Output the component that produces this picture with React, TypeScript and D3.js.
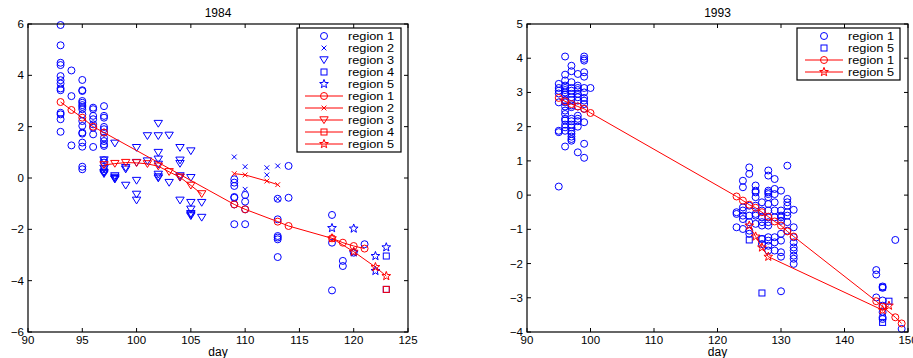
import React from 'react';
import * as d3 from 'd3';

type Pt = [number, number];
type Grouped = [number, number[]][];

// ---------------- 1984 data ----------------
const y84Region1: Grouped = [
  [93, [5.96, 5.17, 4.49, 4.4, 3.97, 3.81, 3.68, 3.49, 3.42, 2.54, 2.48, 2.29, 1.8]],
  [94, [4.19, 3.19, 1.27]],
  [95, [3.82, 3.42, 3.39, 3.0, 2.93, 2.84, 2.77, 2.68, 2.48, 2.22, 2.03, 1.77, 1.73, 1.38, 1.22, 0.44, 0.34]],
  [96, [2.74, 2.68, 2.42, 2.29, 2.09, 1.96, 1.7, 1.21]],
  [97, [2.8, 2.42, 2.35, 1.99, 1.9, 1.77, 1.57, 1.44, 1.31, 1.25, 0.69, 0.6, 0.34, 0.27]],
  [109, [-0.05, -0.18, -0.31, -0.74, -0.77, -1.03, -1.8]],
  [110, [-0.66, -0.92, -1.22, -1.8]],
  [113, [-0.81, -1.61, -2.26, -2.32, -2.39, -3.08]],
  [114, [0.47, -0.77]],
  [118, [-1.44, -2.52, -4.38]],
  [119, [-3.23, -3.43]],
  [120, [-2.91]],
  [121, [-2.58]],
];
const y84Region2: Grouped = [
  [109, [0.82]],
  [110, [0.44, -0.44]],
  [112, [0.4, 0.12]],
  [113, [0.47, -0.81]],
];
const y84Region3: Grouped = [
  [97, [0.7, 0.37, 0.21, 0.16]],
  [98, [1.35, 0.08, 0.02, -0.03, -0.05]],
  [99, [0.4, 0.34, -0.29]],
  [100, [1.18, 0.6, -0.1, -0.64, -0.87]],
  [101, [1.64, 0.66]],
  [102, [2.12, 1.64, 0.99, 0.73, 0.53, 0.14, 0.04, -0.01]],
  [103, [1.66, -0.18]],
  [104, [1.18, 0.69, 0.56, 0.08, 0.02, -0.87]],
  [105, [1.05, 0.01, -0.96, -1.22, -1.39, -1.44, -1.48]],
  [106, [-0.96, -1.54]],
];
const y84Region4: Grouped = [[123, [-3.04, -4.34]]];
const y84Region5: Grouped = [
  [118, [-1.95]],
  [120, [-1.97, -2.9]],
  [122, [-3.04, -3.62]],
  [123, [-2.7]],
];
const y84Line1: Pt[] = [
  [93, 2.96], [94, 2.65], [95, 2.35], [96, 2.0], [97, 1.77], [109, -1.03], [110, -1.22],
  [113, -1.7], [114, -1.87], [118, -2.35], [119, -2.52], [120, -2.65], [121, -2.75],
];
const y84Line2: Pt[] = [[109, 0.17], [110, 0.12], [112, -0.12], [113, -0.26]];
const y84Line3: Pt[] = [
  [97, 0.51], [98, 0.56], [99, 0.6], [100, 0.59], [101, 0.55], [102, 0.46], [103, 0.24],
  [104, 0.03], [105, -0.29], [106, -0.62],
];
const y84Line4: Pt[] = [[123, -4.34]];
const y84Line5: Pt[] = [[118, -2.35], [120, -2.87], [122, -3.47], [123, -3.82]];

// ---------------- 1993 data ----------------
const y93Region1: Grouped = [
  [95, [3.25, 3.13, 3.05, 2.97, 2.71, 1.88, 1.84, 0.25]],
  [96, [4.05, 3.52, 3.35, 3.2, 3.13, 3.07, 3.0, 2.94, 2.78, 2.71, 2.59, 2.47, 2.37, 2.23, 2.18, 2.06, 1.98, 1.88, 1.42]],
  [97, [3.78, 3.62, 3.3, 3.13, 3.05, 2.96, 2.86, 2.78, 2.62, 2.57, 2.23, 2.16, 2.06, 1.98, 1.86, 1.79, 1.71, 1.64, 1.59]],
  [98, [3.54, 3.2, 3.13, 3.07, 2.96, 2.86, 2.76, 2.59, 2.32, 2.23, 2.16, 2.0, 1.25]],
  [99, [4.05, 3.98, 3.93, 3.59, 3.46, 3.13, 3.0, 2.84, 2.76, 2.66, 2.52, 2.13, 1.5, 1.09]],
  [100, [3.13]],
  [123, [-0.5, -0.55, -0.94]],
  [124, [0.42, 0.23, -0.36, -0.45, -0.6, -0.7, -0.99]],
  [125, [0.81, 0.62, -0.31, -0.6, -0.79, -1.04, -1.13]],
  [126, [0.28, 0.13, 0.08, -0.06, -0.31, -0.55, -0.6, -0.84]],
  [127, [-0.21, -0.45, -0.65, -0.79, -0.89, -1.28, -1.43]],
  [128, [0.72, 0.57, 0.13, 0.08, 0.03, -0.06, -0.26, -0.45, -0.65, -0.79, -0.89, -1.23, -1.33, -1.48, -1.62]],
  [129, [0.47, 0.18, 0.03, -0.21, -0.45, -0.65, -1.23, -1.38, -1.62]],
  [130, [0.13, -0.45, -0.6, -0.65, -0.75, -1.13, -1.33, -1.67, -1.8, -2.81]],
  [131, [0.86, -0.11, -0.21, -0.31, -0.5, -0.6, -0.79, -1.04]],
  [132, [-0.43, -0.94, -1.23, -1.38, -1.53, -1.62, -1.77, -1.86, -2.01]],
  [145, [-2.19, -2.32, -2.99]],
  [146, [-2.67, -2.71, -3.08, -3.23, -3.42, -3.57, -3.62]],
  [148, [-1.31]],
  [149, [-3.91]],
];
const y93Region5: Grouped = [
  [125, [-1.31]],
  [127, [-1.28, -2.86]],
  [146, [-2.69, -3.72]],
  [147, [-3.1]],
];
const y93Line1: Pt[] = [
  [95, 2.84], [96, 2.74], [97, 2.66], [98, 2.59], [99, 2.52], [100, 2.4],
  [123, -0.04], [124, -0.16], [125, -0.28], [126, -0.37], [127, -0.5], [128, -0.63],
  [129, -0.77], [130, -0.89], [131, -1.06], [132, -1.21],
  [145, -3.1], [146, -3.26], [148, -3.57], [149, -3.75],
];
const y93Line5: Pt[] = [[125, -0.89], [126, -1.21], [127, -1.53], [128, -1.8], [146, -3.36], [147, -3.23]];

const y84XTicks = [90, 95, 100, 105, 110, 115, 120, 125];
const y84YTicks = [-6, -4, -2, 0, 2, 4, 6];
const y93XTicks = [90, 100, 110, 120, 130, 140, 150];
const y93YTicks = [-4, -3, -2, -1, 0, 1, 2, 3, 4, 5];

const labels84 = ['region 1', 'region 2', 'region 3', 'region 4', 'region 5'];
const labels93 = ['region 1', 'region 5'];

const BLUE = '#0000ff';
const RED = '#ff0000';
const FONT = '"Liberation Sans", Arial, Helvetica, sans-serif';

type Kind = 'circle' | 'x' | 'tri' | 'square' | 'star';

const flat = (g: Grouped): Pt[] => g.flatMap(([d, vs]) => vs.map((v) => [d, v] as Pt));

const starPath = (() => {
  const pts = d3.range(10).map((i) => {
    const r = i % 2 === 0 ? 4.6 : 1.9;
    const a = -Math.PI / 2 + (i * Math.PI) / 5;
    return [r * Math.cos(a), r * Math.sin(a)];
  });
  return 'M' + pts.map((p) => p[0].toFixed(2) + ',' + p[1].toFixed(2)).join('L') + 'Z';
})();

function Marker({ kind, x, y, color }: { kind: Kind; x: number; y: number; color: string }) {
  const common = { fill: 'none', stroke: color, strokeWidth: 1 };
  switch (kind) {
    case 'circle':
      return <circle cx={x} cy={y} r={3.5} {...common} />;
    case 'x':
      return <path transform={`translate(${x},${y})`} d="M-2.4,-2.4L2.4,2.4M-2.4,2.4L2.4,-2.4" {...common} />;
    case 'tri':
      return <path transform={`translate(${x},${y})`} d="M-4.2,-3.2L4.2,-3.2L0,3.6Z" {...common} />;
    case 'square':
      return <rect x={x - 3} y={y - 3} width={6} height={6} {...common} />;
    case 'star':
      return <path transform={`translate(${x},${y})`} d={starPath} {...common} />;
  }
}

interface Series { kind: Kind; color: string; pts: Pt[]; line: boolean }
interface LegendItem { kind: Kind; color: string; line: boolean; label: string }

interface PanelProps {
  title: string;
  box: { x0: number; x1: number; y0: number; y1: number };
  xDomain: [number, number];
  yDomain: [number, number];
  xTicks: number[];
  yTicks: number[];
  series: Series[];
  legend: LegendItem[];
  legendBox: { x: number; y: number; w: number };
}

function Panel(p: PanelProps) {
  const { x0, x1, y0, y1 } = p.box;
  const xs = d3.scaleLinear().domain(p.xDomain).range([x0, x1]);
  const ys = d3.scaleLinear().domain(p.yDomain).range([y1, y0]);
  const line = d3.line<Pt>().x((d) => xs(d[0])).y((d) => ys(d[1]));
  const tl = 4;
  const fmt = (v: number) => (v < 0 ? '\u2212' + Math.abs(v) : String(v));
  const rowH = 12;
  const lb = p.legendBox;
  const lh = p.legend.length * rowH + 4;
  return (
    <g>
      <rect x={x0} y={y0} width={x1 - x0} height={y1 - y0} fill="#fff" />
      {p.series.map((s, i) => (
        <g key={i}>
          {s.line && <path d={line(s.pts) || ''} fill="none" stroke={s.color} strokeWidth={1} />}
          {s.pts.map((d, j) => (
            <Marker key={j} kind={s.kind} x={xs(d[0])} y={ys(d[1])} color={s.color} />
          ))}
        </g>
      ))}
      {/* axes box */}
      <rect x={x0} y={y0} width={x1 - x0} height={y1 - y0} fill="none" stroke="#000" strokeWidth={1.2} />
      {p.xTicks.map((t) => (
        <g key={'x' + t}>
          <line x1={xs(t)} x2={xs(t)} y1={y1} y2={y1 - tl} stroke="#000" />
          <line x1={xs(t)} x2={xs(t)} y1={y0} y2={y0 + tl} stroke="#000" />
          <text x={xs(t)} y={y1 + 11.5} textAnchor="middle" fontSize={11.5} fontFamily={FONT} fill="#000">
            {fmt(t)}
          </text>
        </g>
      ))}
      {p.yTicks.map((t) => (
        <g key={'y' + t}>
          <line x1={x0} x2={x0 + tl} y1={ys(t)} y2={ys(t)} stroke="#000" />
          <line x1={x1} x2={x1 - tl} y1={ys(t)} y2={ys(t)} stroke="#000" />
          <text x={x0 - 4} y={ys(t) + 4} textAnchor="end" fontSize={11.5} fontFamily={FONT} fill="#000">
            {fmt(t)}
          </text>
        </g>
      ))}
      <text x={(x0 + x1) / 2} y={17} textAnchor="middle" fontSize={12} fontFamily={FONT} fill="#000">
        {p.title}
      </text>
      <text x={(x0 + x1) / 2} y={355.5} textAnchor="middle" fontSize={12} fontFamily={FONT} fill="#000">
        day
      </text>
      {/* legend */}
      <rect x={lb.x} y={lb.y} width={lb.w} height={lh} fill="#fff" stroke="#000" strokeWidth={1.2} />
      {p.legend.map((it, i) => {
        const cy = lb.y + 8 + i * rowH;
        const mx = lb.x + 27;
        return (
          <g key={i}>
            {it.line && <line x1={lb.x + 8} x2={lb.x + 46} y1={cy} y2={cy} stroke={it.color} />}
            <Marker kind={it.kind} x={mx} y={cy} color={it.color} />
            <text x={lb.x + 51} y={cy + 4} fontSize={11.5} fontFamily={FONT} fill="#000" textLength={46} lengthAdjust="spacingAndGlyphs">
              {it.label}
            </text>
          </g>
        );
      })}
    </g>
  );
}

export default function App() {
  const kinds84: Kind[] = ['circle', 'x', 'tri', 'square', 'star'];
  const blue84 = [y84Region1, y84Region2, y84Region3, y84Region4, y84Region5];
  const red84 = [y84Line1, y84Line2, y84Line3, y84Line4, y84Line5];
  const series84: Series[] = [
    ...blue84.map((g, i) => ({ kind: kinds84[i], color: BLUE, pts: flat(g), line: false })),
    ...red84.map((pts, i) => ({ kind: kinds84[i], color: RED, pts, line: true })),
  ];
  const legend84: LegendItem[] = [
    ...labels84.map((l, i) => ({ kind: kinds84[i], color: BLUE, line: false, label: l })),
    ...labels84.map((l, i) => ({ kind: kinds84[i], color: RED, line: true, label: l })),
  ];
  const series93: Series[] = [
    { kind: 'circle', color: BLUE, pts: flat(y93Region1), line: false },
    { kind: 'square', color: BLUE, pts: flat(y93Region5), line: false },
    { kind: 'circle', color: RED, pts: y93Line1, line: true },
    { kind: 'star', color: RED, pts: y93Line5, line: true },
  ];
  const legend93: LegendItem[] = [
    { kind: 'circle', color: BLUE, line: false, label: labels93[0] },
    { kind: 'square', color: BLUE, line: false, label: labels93[1] },
    { kind: 'circle', color: RED, line: true, label: labels93[0] },
    { kind: 'star', color: RED, line: true, label: labels93[1] },
  ];
  return (
    <svg
      width={913}
      height={358}
      style={{ position: 'absolute', left: 0, top: 0, background: '#fff' }}
    >
      <rect width={913} height={358} fill="#fff" />
      <Panel
        title="1984"
        box={{ x0: 28, x1: 408, y0: 24, y1: 332 }}
        xDomain={[90, 125]}
        yDomain={[-6, 6]}
        xTicks={y84XTicks}
        yTicks={y84YTicks}
        series={series84}
        legend={legend84}
        legendBox={{ x: 297, y: 28, w: 104 }}
      />
      <Panel
        title="1993"
        box={{ x0: 527, x1: 908, y0: 24, y1: 332 }}
        xDomain={[90, 150]}
        yDomain={[-4, 5]}
        xTicks={y93XTicks}
        yTicks={y93YTicks}
        series={series93}
        legend={legend93}
        legendBox={{ x: 797, y: 28, w: 103 }}
      />
    </svg>
  );
}
